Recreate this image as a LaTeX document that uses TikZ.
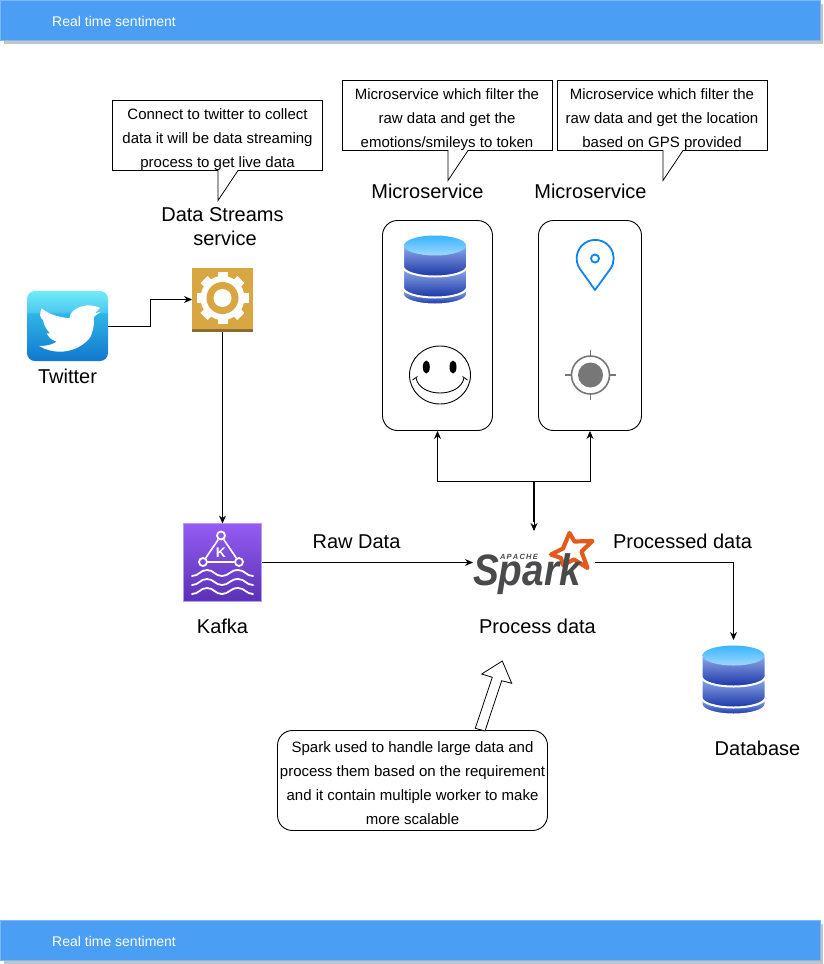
\documentclass[tikz,border=0pt]{standalone}
\usepackage{fontspec}
\setmainfont{Liberation Sans}
\usetikzlibrary{arrows.meta}

\definecolor{barblue}{HTML}{4A9FF5}
\definecolor{barrim}{HTML}{7DB8F5}
\definecolor{barshade}{HTML}{C4C4C4}
\definecolor{gearsand}{HTML}{D9A741}
\definecolor{gearedge}{HTML}{8C6D31}
\definecolor{pinblue}{HTML}{0A84F0}
\definecolor{targetgrey}{HTML}{777777}
\definecolor{sparkgrey}{HTML}{4A4A4C}
\definecolor{sparkorange}{HTML}{E25A1C}
\definecolor{birdlow}{HTML}{1277CF}
\definecolor{birdmid}{HTML}{2EB6E6}
\definecolor{birdhigh}{HTML}{4EC8EE}
\definecolor{birdtop}{HTML}{70ECFA}
\definecolor{kafkatop}{HTML}{945DF2}
\definecolor{kafkalow}{HTML}{5A30B5}
\definecolor{kafkarim}{HTML}{B89AF0}
\definecolor{bandtop}{HTML}{8FABE6}
\definecolor{bandlow}{HTML}{1A34A8}
\definecolor{lidtop}{HTML}{38B4FF}
\definecolor{lidlow}{HTML}{9FD8FC}

\pgfdeclareverticalshading{twitterblue}{100bp}{
  color(0bp)=(birdlow);
  color(25bp)=(birdlow);
  color(59bp)=(birdmid);
  color(60bp)=(birdhigh);
  color(75bp)=(birdtop);
  color(100bp)=(birdtop)}

\tikzset{
  >={Stealth[length=8pt,width=7pt]},
  link/.style={draw=black, line width=0.9pt, ->},
  bar/.style={draw=barrim, fill=barblue, line width=1pt},
  bartext/.style={text=white, font=\fontsize{14}{17}\selectfont, anchor=west, inner sep=0pt},
  caption/.style={font=\fontsize{20}{24}\selectfont, align=center, inner sep=0pt},
  note/.style={font=\fontsize{15}{24}\selectfont, align=center, inner sep=0pt},
  notebox/.style={draw=black, fill=white, line width=0.8pt},
  holder/.style={draw=black, line width=0.9pt, rounded corners=15pt, minimum height=210pt},
  spot/.style={inner sep=0pt, outer sep=0pt},
  kring/.style={circle, draw=white, line width=1.8pt, fill=none, minimum size=8pt, inner sep=0pt},
  dbband/.style={draw=white, line width=2pt, top color=bandtop, bottom color=bandlow},
  dbstack/.pic={
    \path[dbband] (-32,54) -- (-32,59) arc[start angle=180, end angle=360, x radius=32pt, y radius=10pt] -- (32,54) -- cycle;
    \path[dbband] (-32,33) -- (-32,52) arc[start angle=180, end angle=360, x radius=32pt, y radius=10pt] -- (32,33) -- cycle;
    \path[dbband] (-32,10) -- (-32,31) arc[start angle=180, end angle=360, x radius=32pt, y radius=10pt] -- (32,10) -- cycle;
    \path[top color=lidtop, bottom color=lidlow] (0,10) ellipse[x radius=31pt, y radius=10pt];
  },
  kwave/.pic={
    \draw[white, line width=1.8pt, line cap=round] (0,3) .. controls (7,3) and (8,-3) .. (15,-3) .. controls (22,-3) and (23,3) .. (30,3) .. controls (37,3) and (38,-3) .. (46,-3) .. controls (53,-3) and (54,3) .. (61,3);
  }
}

\begin{document}
\begin{tikzpicture}[x=1pt, y=-1pt]
            \useasboundingbox (0,0) rectangle (823,964);

            % Adding the bars
            \fill [barshade] (3.5,3.5) rectangle (823,43.5);
            \fill [barshade] (3.5,923.5) rectangle (823,963.5);
            \path [bar] (0.5,0.5) rectangle (820.5,40.5);
            \path [bar] (0.5,920.5) rectangle (820.5,960.5);
            \node [bartext] (toptitle) at (52,21) {Real time sentiment};
            \node [bartext] (bottomtitle) at (52,941) {Real time sentiment};

            % Adding the notes
            \path [notebox] (112.5,100.5) -- (322.5,100.5) -- (322.5,170.5) -- (238,170.5) -- (218,200.5) -- (218,170.5) -- (112.5,170.5) -- cycle;
            \path [notebox] (342.5,80.5) -- (552.5,80.5) -- (552.5,150.5) -- (468,150.5) -- (448,180.5) -- (448,150.5) -- (342.5,150.5) -- cycle;
            \path [notebox] (557.5,80.5) -- (767.5,80.5) -- (767.5,150.5) -- (683,150.5) -- (663,180.5) -- (663,150.5) -- (557.5,150.5) -- cycle;
            \node [note] (streamnote) at (217.5,140) {Connect to twitter to collect\\data it will be data streaming\\process to get live data};
            \node [note] (emotionnote) at (447,120) {Microservice which filter the\\raw data and get the\\emotions/smileys to token};
            \node [note] (locationnote) at (662,120) {Microservice which filter the\\raw data and get the location\\based on GPS provided};

            % Adding twitter
            \node [spot, shading=twitterblue, rounded corners=8pt, minimum width=81pt, minimum height=70pt] (twitter) at (67.5,326) {};
            \fill [white] (100,307.7) .. controls (93,305) and (87,305) .. (83.3,306) .. controls (75,308) and (70,312) .. (69.3,318.3) .. controls (58,317) and (48,314) .. (41.7,308.3) .. controls (39,314) and (40,318) .. (43,320) .. controls (44,326) and (47,330) .. (50,333.3) -- (46.7,333.3) .. controls (49,338) and (52,340) .. (56.7,341.7) .. controls (52,345) and (46,346) .. (39.3,346) .. controls (46,350) and (53,351.7) .. (60,351.7) .. controls (77,351.7) and (91,340) .. (91.7,333.3) .. controls (94,328) and (94,322) .. (94,316.7) -- (100.7,311.7) -- (95,313.3) -- cycle;
            \node [caption] (twittertext) at (67.5,376) {Twitter};

            % Adding the stream service
            \node [spot, fill=gearsand, minimum width=61pt, minimum height=64pt] (stream) at (222.5,300) {};
            \fill [gearedge] (192,329) rectangle (253,332);
            \draw [white, line width=10pt] (222.5,272) -- (222.5,324);
            \draw [white, line width=10pt] (196.5,298) -- (248.5,298);
            \draw [white, line width=10pt] (204.1,279.6) -- (240.9,316.4);
            \draw [white, line width=10pt] (240.9,279.6) -- (204.1,316.4);
            \fill [white] (222.5,298) circle [radius=22pt];
            \fill [gearsand] (222.5,298) circle [radius=16pt];
            \fill [white] (222.5,298) circle [radius=9pt];
            \node [caption] (streamtext) at (222.5,227) {Data Streams\\\hspace*{5pt}service};

            % Adding kafka
            \node [spot, draw=kafkarim, line width=1pt, top color=kafkatop, bottom color=kafkalow, minimum width=78pt, minimum height=78pt] (kafka) at (222.5,562.5) {};
            \node [kring] (ktop) at (221,535.5) {};
            \node [kring] (kleft) at (203,562) {};
            \node [kring] (kright) at (239,562) {};
            \draw [white, line width=1.6pt] (ktop) -- (kleft) -- (kright) -- (ktop);
            \node [spot, text=white, font=\fontsize{14}{14}\selectfont\bfseries] (kletter) at (221,553) {K};
            \pic at (192,573) {kwave};
            \pic at (192,582) {kwave};
            \pic at (192,591) {kwave};
            \node [caption] (kafkatext) at (222.5,626) {Kafka};

            % Adding the microservices
            \node [holder, minimum width=110pt] (microone) at (437.5,325.5) {};
            \node [holder, minimum width=103pt] (microtwo) at (590,325.5) {};
            \node [caption] (microonetext) at (427.5,191) {Microservice};
            \node [caption] (microtwotext) at (590.5,191) {Microservice};
            \pic at (435,235.5) {dbstack};

            % Adding the smiley
            \draw [line width=0.9pt] (440,375) ellipse [x radius=30.5pt, y radius=29pt];
            \fill (426.3,367) ellipse [x radius=3.5pt, y radius=6.5pt];
            \fill (453,367) ellipse [x radius=3.5pt, y radius=6.5pt];
            \draw [line width=0.9pt] (416,378) .. controls (420,398) and (460,398) .. (464,378);
            \draw [line width=0.8pt] (412.5,380) -- (417.5,376.5);
            \draw [line width=0.8pt] (467.5,380) -- (462.5,376.5);

            % Adding the pin
            \draw [pinblue, line width=1.8pt, line join=round] (595,290) -- (580,269) arc [start angle=215, end angle=-35, radius=18.5pt] -- cycle;
            \draw [pinblue, line width=1.8pt] (595,258.5) circle [radius=4pt];

            % Adding the target
            \draw [targetgrey, line width=1.6pt] (590.5,375) circle [radius=19pt];
            \fill [targetgrey] (590.5,375) circle [radius=12.5pt];
            \draw [targetgrey, line width=1.4pt] (590.5,350) -- (590.5,356);
            \draw [targetgrey, line width=1.4pt] (590.5,394) -- (590.5,400);
            \draw [targetgrey, line width=1.4pt] (565,375) -- (571,375);
            \draw [targetgrey, line width=1.4pt] (610,375) -- (616,375);

            % Adding spark
            \node [spot, minimum width=122pt, minimum height=63pt] (spark) at (534,562.5) {};
            \draw [sparkorange, fill=white, line width=4.2pt, line join=round] (569.5,533) -- (574.5,541.5) -- (592.5,541) -- (581.5,551.5) -- (587.5,568) -- (574,559.5) -- (563,565) -- (561,558) -- (551,554.5) -- (563,548.5) -- cycle;
            \node [spot, text=sparkgrey, anchor=base west, xscale=0.88, font=\fontsize{44}{44}\selectfont\bfseries\itshape] (sparkword) at (473,585) {Spark};
            \node [spot, text=sparkgrey, anchor=base west, font=\fontsize{7.5}{8}\selectfont\bfseries\itshape] (sparkapache) at (500,559) {A\,P\,A\,C\,H\,E};
            \node [caption] (sparktext) at (537.5,626) {Process data};

            % Adding the database
            \node [spot, minimum width=63pt, minimum height=75pt] (store) at (733.5,677.5) {};
            \pic at (733.5,645.5) {dbstack};
            \node [caption] (storetext) at (757.5,748) {Database};

            % Adding the spark note and its arrow
            \node [draw=black, fill=white, line width=0.9pt, rounded corners=15pt, minimum width=270pt, minimum height=100pt] (sparknote) at (412.5,780.5) {};
            \node [note] (sparknotetext) at (412.5,783.5) {Spark used to handle large data and\\process them based on the requirement\\and it contain multiple worker to make\\more scalable};
            \draw [line width=0.8pt, fill=white] (475.3,728.3) -- (492.3,677.3) -- (481.7,674) -- (502.3,661) -- (511.7,683.3) -- (501.7,680.7) -- (485,731) -- cycle;

            % Adding arrows
            \draw [link] (twitter.east) -- (150,326) -- (150,299.5) -- (stream.west |- 0,299.5);
            \draw [link] (stream.south) -- (kafka.north);
            \draw [link] (kafka.east) -- (spark.west);
            \draw [link] (spark.east) -- (733.5,562.5) -- (store.north);
            \coordinate (fork) at (534,481);
            \draw [link] (fork) -- (spark.north);
            \draw [link] (fork) -- (437.5,481) -- (microone.south);
            \draw [link] (fork) -- (590,481) -- (microtwo.south);
            \draw [line width=1.4pt] (fork) -- (534,522);

            % Adding edge labels
            \node [caption] (rawtext) at (356.5,541.5) {Raw Data};
            \node [caption] (processedtext) at (682.5,541) {Processed data};

        \end{tikzpicture}
\end{document}
